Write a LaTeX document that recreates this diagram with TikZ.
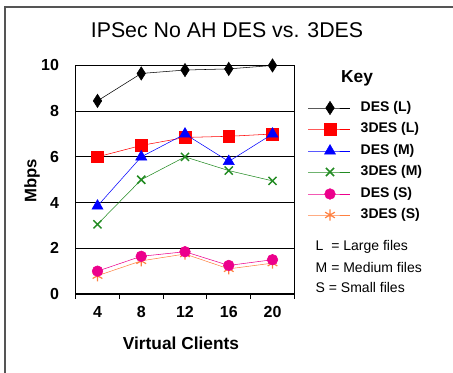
\documentclass[tikz,border=0pt]{standalone}
\usepackage{fontspec}
\setmainfont{Liberation Sans}
\usetikzlibrary{plotmarks}
\definecolor{frm}{RGB}{85,85,85}
\definecolor{dgreen}{RGB}{34,139,34}
\definecolor{coral}{RGB}{255,128,64}
\tikzset{
  desl/.style={black, mark=diamond*, mark size=5pt, mark options={xscale=0.85}},
  tdesl/.style={red, mark=square*, mark size=4.4pt},
  desm/.style={blue, mark=triangle*, mark size=4.8pt},
  tdesm/.style={dgreen, mark=x, mark size=4.3pt, mark options={line width=1.1pt}},
  dess/.style={magenta, mark=*, mark size=4pt},
  tdess/.style={coral, mark=asterisk, mark size=4.2pt, mark options={line width=0.9pt}},
  ticktxt/.style={font=\bfseries\fontsize{12}{14}\selectfont},
  keytxt/.style={font=\bfseries\fontsize{10.5}{12}\selectfont, anchor=west},
  notetxt/.style={font=\fontsize{10.5}{12}\selectfont, anchor=west},
}
\begin{document}
\begin{tikzpicture}[x=0.75pt, y=-0.75pt]
  \useasboundingbox (0,0) rectangle (453,373);
  \draw[frm, line width=1.5pt] (4.5,373) -- (4.5,7) -- (453,7);

  \node (title) at (227,30) {\fontsize{16}{18}\selectfont IPSec No AH DES vs. 3DES};
  \node (ylab) at (32,181) [rotate=90, font=\bfseries\fontsize{12.5}{14}\selectfont] {Mbps};
  \node (xlab) at (181,343) [font=\bfseries\fontsize{13}{15}\selectfont] {Virtual Clients};

  % plot area, one unit per client group and per Mbps
  \begin{scope}[shift={(53.75,294)}, x=32.8125pt, y=17.14pt]
    \draw[line width=0.8pt] (0.5,10) -- (0.5,-0.2);
    \draw[line width=0.8pt] (5.5,10) -- (5.5,-0.2);
    \foreach \v in {0,2,...,10} {
      \draw[line width=0.8pt] (0.5,\v) -- (5.5,\v);
      \node (yt\v) at (0.5,\v) [ticktxt, anchor=east, xshift=-9pt] {\v};
    }
    \foreach \t in {1.5,2.5,3.5,4.5}
      \draw[line width=0.8pt] (\t,0) -- (\t,-0.2);
    \foreach \c [count=\i] in {4,8,12,16,20}
      \node (xt\c) at (\i,0) [ticktxt, yshift=-13.5pt] {\c};

    \draw[desl]  plot coordinates {(1,8.45) (2,9.65) (3,9.8) (4,9.85) (5,10)};
    \draw[tdesl] plot coordinates {(1,6) (2,6.5) (3,6.85) (4,6.9) (5,7)};
    \draw[desm]  plot coordinates {(1,3.85) (2,6) (3,7) (4,5.8) (5,7)};
    \draw[tdesm] plot coordinates {(1,3.05) (2,5) (3,6) (4,5.4) (5,4.95)};
    \draw[tdess] plot coordinates {(1,0.8) (2,1.45) (3,1.75) (4,1.1) (5,1.35)};
    \draw[dess]  plot coordinates {(1,1) (2,1.65) (3,1.85) (4,1.25) (5,1.5)};
  \end{scope}

  % key
  \node (key) at (357,78) [font=\bfseries\fontsize{13}{15}\selectfont] {Key};
  \foreach \s/\t/\y in {desl/DES (L)/108, tdesl/3DES (L)/129, desm/DES (M)/151,
                        tdesm/3DES (M)/172, dess/DES (S)/194, tdess/3DES (S)/215} {
    \draw[\s, mark indices={2}] plot coordinates {(308,\y) (330,\y) (350,\y)};
    \node (k\y) at (356,\y) [keytxt] {\t};
  }
  \node (nl) at (311,247) [notetxt] {L \ = Large files};
  \node (nm) at (311,267) [notetxt] {M = Medium files};
  \node (ns) at (311,287) [notetxt] {S = Small files};
\end{tikzpicture}
\end{document}
